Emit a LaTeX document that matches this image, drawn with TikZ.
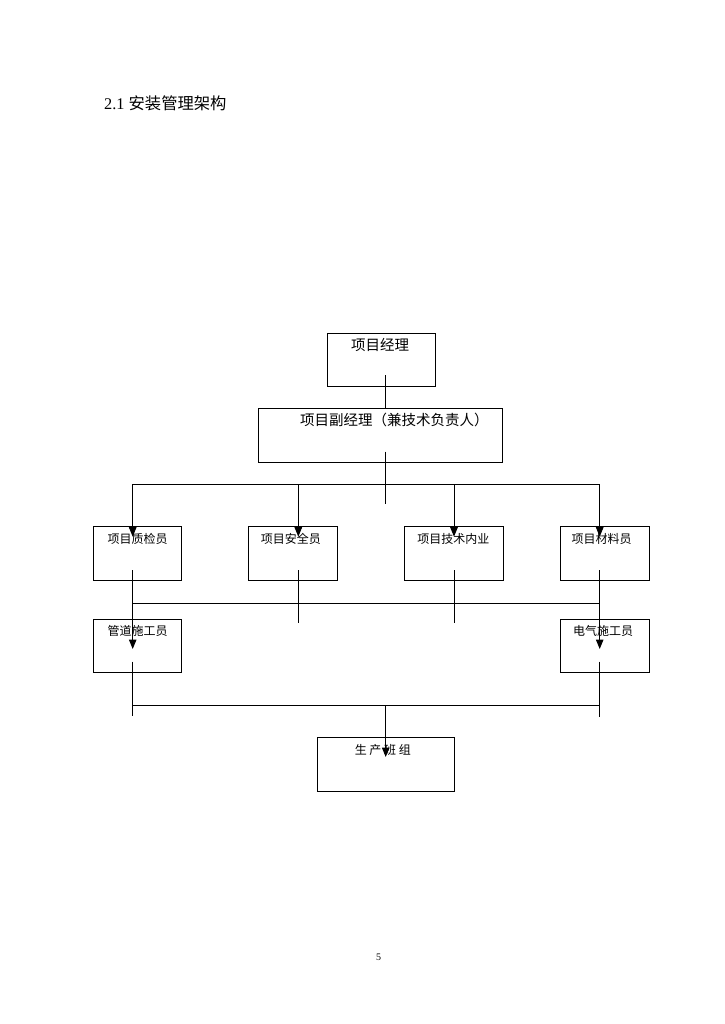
\documentclass[tikz,border=0pt]{standalone}
\usepackage{fontspec}
\setmainfont{Liberation Serif}
\newfontfamily\cjk{Noto Sans CJK SC}
\usetikzlibrary{arrows.meta,calc}
\begin{document}
\begin{tikzpicture}[x=1pt,y=-1pt,
  box/.style={draw, line width=1pt, rectangle, inner sep=0pt},
  lbl/.style={font=\cjk\fontsize{12}{14}\selectfont, inner sep=0pt, anchor=center},
  big/.style={font=\cjk\fontsize{14.5}{17}\selectfont},
  conn/.style={line width=1pt},
  arr/.style={conn, -{Triangle[length=9.5pt,width=7.5pt]}}]
\path[use as bounding box] (0,0) rectangle (724,1024);

% title
\node[anchor=base west, inner sep=0pt, font=\fontsize{16.3}{19}\selectfont] (title) at (104,109.5) {2.1 {\cjk 安装管理架构}};

% boxes
\node[box, minimum width=108pt, minimum height=53pt] (pm) at (381,359.5) {};
\node[box, minimum width=244pt, minimum height=54pt] (dpm) at (380.3,435.3) {};
\node[box, minimum width=88.4pt, minimum height=53.6pt] (qc) at (137.5,553.5) {};
\node[box, minimum width=88.4pt, minimum height=53.6pt] (sa) at (292.9,553.5) {};
\node[box, minimum width=99pt, minimum height=53.6pt] (te) at (453.8,553.5) {};
\node[box, minimum width=88.6pt, minimum height=53.6pt] (ma) at (605,553.5) {};
\node[box, minimum width=88.4pt, minimum height=53.3pt] (pipe) at (137.5,645.7) {};
\node[box, minimum width=88.6pt, minimum height=53.3pt] (elec) at (605,645.7) {};
\node[box, minimum width=137pt, minimum height=53.3pt] (crew) at (385.8,764.4) {};

% texts
\node[lbl,big] (pmT) at ($(pm.north)+(-1,12.3)$) {项目经理};
\node[lbl,big] (dpmT) at ($(dpm.north)+(14,11.7)$) {项目副经理（兼技术负责人）};
\node[lbl] (qcT) at ($(qc.north)+(0,12.3)$) {项目质检员};
\node[lbl] (saT) at ($(sa.north)+(-2,12.3)$) {项目安全员};
\node[lbl] (teT) at ($(te.north)+(-0.5,12.3)$) {项目技术内业};
\node[lbl] (maT) at ($(ma.north)+(-3.5,12.3)$) {项目材料员};
\node[lbl] (pipeT) at ($(pipe.north)+(0,12)$) {管道施工员};
\node[lbl] (elecT) at ($(elec.north)+(-2,12)$) {电气施工员};
\node[lbl] (crewT) at ($(crew.north)+(-3,12.3)$) {生 产 班 组};

% page number
\node[inner sep=0pt, font=\fontsize{10}{12}\selectfont] (pg) at (378.7,957.5) {5};

% connector points
\coordinate (pmS) at (385.7,375);
\coordinate (dpmS) at (385.7,451.7);
\coordinate (dpmE) at (385.7,504.3);
\coordinate (b1L) at (132.7,484.3);
\coordinate (b1a) at (298.3,484.3);
\coordinate (b1b) at (454,484.3);
\coordinate (b1R) at (599.7,484.3);
\coordinate (qcIn) at (132.7,536.7);
\coordinate (saIn) at (298.3,536.7);
\coordinate (teIn) at (454,536.7);
\coordinate (maIn) at (599.7,536.7);
\coordinate (qcOut) at (132.7,570);
\coordinate (saOut) at (298.3,570);
\coordinate (teOut) at (454,570);
\coordinate (maOut) at (599.7,570);
\coordinate (saEnd) at (298.3,623.3);
\coordinate (teEnd) at (454,623.3);
\coordinate (b2L) at (132.7,603);
\coordinate (b2R) at (599.7,603);
\coordinate (pipeIn) at (132.7,649);
\coordinate (elecIn) at (599.7,649);
\coordinate (pipeOut) at (132.7,661.7);
\coordinate (elecOut) at (599.7,661.7);
\coordinate (pipeEnd) at (132.7,715.5);
\coordinate (elecEnd) at (599.7,716.5);
\coordinate (b3L) at (132.7,705.7);
\coordinate (b3m) at (385.7,705.7);
\coordinate (b3R) at (599.7,705.7);
\coordinate (crewIn) at (385.7,757);

% connectors
\draw[conn] (pmS) -- (pmS |- dpm.north);
\draw[conn] (dpmS) -- (dpmE);
\draw[conn] (b1L) -- (b1R);
\draw[arr] (b1L) -- (qcIn);
\draw[arr] (b1a) -- (saIn);
\draw[arr] (b1b) -- (teIn);
\draw[arr] (b1R) -- (maIn);
\draw[arr] (qcOut) -- (pipeIn);
\draw[arr] (maOut) -- (elecIn);
\draw[conn] (saOut) -- (saEnd);
\draw[conn] (teOut) -- (teEnd);
\draw[conn] (b2L) -- (b2R);
\draw[conn] (pipeOut) -- (pipeEnd);
\draw[conn] (elecOut) -- (elecEnd);
\draw[conn] (b3L) -- (b3R);
\draw[arr] (b3m) -- (crewIn);
\end{tikzpicture}
\end{document}
